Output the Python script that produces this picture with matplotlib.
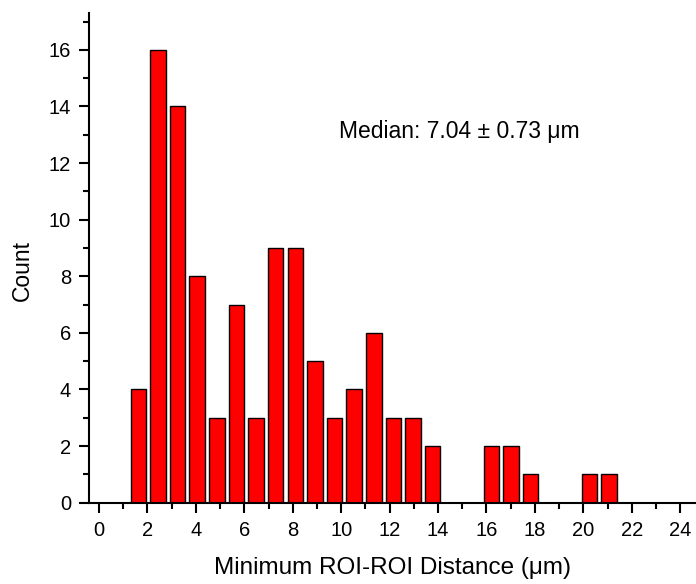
import matplotlib
matplotlib.use('Agg')
import matplotlib.pyplot as plt
from matplotlib.ticker import MultipleLocator

plt.rcParams['font.family'] = ['Liberation Sans', 'DejaVu Sans']

# histogram bins (lower edge of first bin, bin width) and counts
bin_start = 1.22
bin_width = 0.81
counts = [4, 16, 14, 8, 3, 7, 3, 9, 9, 5, 3, 4, 6, 3, 3, 2, 0, 0, 2, 2, 1, 0, 0, 1, 1]
centers = [bin_start + bin_width * (i + 0.5) for i in range(len(counts))]

fig = plt.figure(figsize=(6.96, 5.84), dpi=100)
ax = fig.add_axes([0.1283, 0.1392, 0.8717, 0.8385])

ax.bar(centers, counts, width=bin_width * 0.79, color='#ff0000',
       edgecolor='black', linewidth=1.0)

ax.set_xlim(-0.4, 24.65)
ax.set_ylim(0, 17.3)
ax.xaxis.set_major_locator(MultipleLocator(2))
ax.xaxis.set_minor_locator(MultipleLocator(1))
ax.yaxis.set_major_locator(MultipleLocator(2))
ax.yaxis.set_minor_locator(MultipleLocator(1))

for s in ['top', 'right']:
    ax.spines[s].set_visible(False)
for s in ['left', 'bottom']:
    ax.spines[s].set_linewidth(1.5)

ax.tick_params(which='major', length=7, width=1.5, labelsize=14.5, pad=6)
ax.tick_params(axis='x', which='major', pad=6.5)
ax.tick_params(which='minor', length=4, width=1.5)

ax.set_xlabel('Minimum ROI-ROI Distance (\u03bcm)', fontsize=17.5, labelpad=12)
ax.set_ylabel('Count', fontsize=16.5)
ax.yaxis.set_label_coords(-0.092, 0.475)

ax.text(9.9, 13.1, 'Median: 7.04 \u00b1 0.73 \u03bcm', fontsize=16.5,
        va='center', ha='left')

fig.savefig('out.png', dpi=100)
